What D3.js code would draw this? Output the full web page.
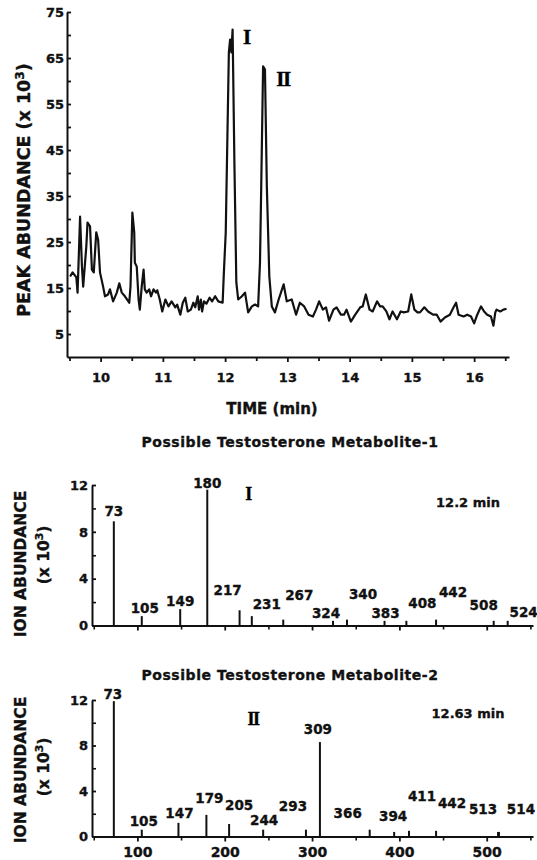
<!DOCTYPE html>
<html>
<head>
<meta charset="utf-8">
<script src="https://cdn.jsdelivr.net/npm/d3@7"></script>
<style>
  html, body { margin: 0; padding: 0; background: #fff; }
  svg { display: block; }
  text { font-family: "DejaVu Sans", "Liberation Sans", sans-serif; font-weight: bold; fill: #111;
         stroke: #111; stroke-width: 0.35px; }
  .roman { font-family: "Liberation Serif", "DejaVu Serif", serif; font-weight: bold; fill: #000; stroke: #000; }
  .domain, .tick line { stroke: #111; }
</style>
</head>
<body>
<div id="chart"></div>
<script>
// ---- data --------------------------------------------------------------- //
// total ion chromatogram: retention time (min) vs abundance (x 10^3)
const chromTime = [
  9.51, 9.55, 9.61, 9.63, 9.67, 9.70, 9.72, 9.77, 9.79, 9.83, 9.86, 9.89, 9.93, 9.96, 9.99,
  10.04, 10.07, 10.12, 10.15, 10.20, 10.26, 10.30, 10.34, 10.39, 10.46, 10.48, 10.51, 10.54,
  10.55, 10.58, 10.61, 10.63, 10.66, 10.69, 10.71, 10.74, 10.78, 10.81, 10.85, 10.89, 10.91,
  10.95, 10.99, 11.04, 11.09, 11.14, 11.20, 11.23, 11.28, 11.32, 11.36, 11.40, 11.45, 11.49,
  11.52, 11.56, 11.58, 11.61, 11.63, 11.66, 11.70, 11.75, 11.79, 11.84, 11.89, 11.96, 11.98,
  12.01, 12.06, 12.08, 12.10, 12.12, 12.15, 12.18, 12.21, 12.27, 12.32, 12.37, 12.43, 12.48,
  12.53, 12.56, 12.58, 12.61, 12.64, 12.67, 12.71, 12.75, 12.80, 12.86, 12.94, 12.99, 13.07,
  13.14, 13.20, 13.27, 13.34, 13.41, 13.46, 13.51, 13.57, 13.62, 13.67, 13.74, 13.79, 13.86,
  13.91, 13.95, 14.02, 14.09, 14.17, 14.21, 14.26, 14.32, 14.37, 14.44, 14.49, 14.53, 14.59,
  14.64, 14.69, 14.76, 14.82, 14.87, 14.94, 14.99, 15.04, 15.09, 15.13, 15.20, 15.26, 15.34,
  15.40, 15.46, 15.53, 15.61, 15.67, 15.71, 15.75, 15.83, 15.89, 15.95, 16.00, 16.05, 16.11,
  16.16, 16.21, 16.27, 16.31, 16.34, 16.36, 16.42, 16.47, 16.52
];
const chromAbund = [
  17.5, 18.4, 17.3, 14.0, 30.5, 19.7, 15.3, 24.0, 29.2, 28.4, 19.0, 18.4, 27.1, 25.5, 18.4,
  15.3, 13.2, 13.6, 14.7, 12.1, 14.0, 16.0, 14.0, 13.2, 11.8, 15.3, 31.4, 27.1,
  20.5, 19.7, 12.5, 10.3, 15.3, 19.0, 14.7, 14.0, 14.7, 13.2, 14.7, 14.0, 14.5,
  12.5, 9.9, 12.5, 11.0, 12.1, 10.8, 11.4, 9.2, 11.8, 12.9, 9.9, 10.3, 11.8,
  10.8, 13.2, 10.3, 12.5, 9.9, 12.1, 11.6, 12.9, 12.1, 13.2, 12.1, 11.8, 18.4,
  27.1, 66.2, 69.0, 66.2, 71.2, 41.4, 16.2, 12.5, 13.2, 14.0, 9.7, 11.0, 11.4,
  11.0, 20.5, 37.1, 63.2, 62.5, 37.1, 17.5, 11.0, 9.7, 12.5, 15.8, 12.1, 12.5,
  9.2, 11.8, 11.0, 9.2, 8.8, 10.3, 12.1, 10.3, 10.8, 7.9, 10.3, 10.8, 9.2,
  9.2, 10.3, 7.7, 9.2, 10.8, 11.0, 13.6, 10.3, 9.9, 12.1, 11.0, 11.0, 9.9,
  8.2, 9.9, 8.2, 9.9, 9.7, 9.9, 13.6, 10.3, 9.7, 9.7, 10.8, 9.9, 9.2,
  9.2, 7.7, 8.6, 9.2, 10.8, 11.8, 9.2, 8.8, 9.2, 8.8, 7.3, 9.2, 11.0,
  9.9, 9.2, 8.8, 6.8, 9.7, 10.3, 9.9, 10.3, 10.5
];
const timeTicks = [10, 11, 12, 13, 14, 15, 16];
const timeMinor = [9.5, 10.5, 11.5, 12.5, 13.5, 14.5, 15.5, 16.5];
const peakTicks = [5, 15, 25, 35, 45, 55, 65, 75];
const peakMinor = [10, 20, 30, 40, 50, 60, 70];

// mass spectrum of peak I (12.2 min)
const spec1Mz    = [73, 105, 149, 180, 217, 231, 267, 324, 340, 383, 408, 442, 508, 524];
const spec1Abund = [8.9, 0.8, 1.4, 11.6, 1.3, 0.8, 0.5, 0.4, 0.5, 0.4, 0.4, 0.5, 0.4, 0.4];
// mass spectrum of peak II (12.63 min)
const spec2Mz    = [73, 105, 147, 179, 205, 244, 293, 309, 366, 394, 411, 442, 513, 514];
const spec2Abund = [11.9, 0.6, 1.2, 1.9, 1.1, 0.6, 0.6, 8.3, 0.6, 0.4, 0.5, 0.5, 0.4, 0.4];

const ionTicks = [0, 4, 8, 12];
const ionMinor = [2, 6, 10];
const mzTicks = [100, 200, 300, 400, 500];
const mzMinor = [50, 150, 250, 350, 450, 550];

// label placement as drawn in the figure: [dx, dy] px from the top of each line
const spec1Nudge = [[0, -5], [3, -3], [0, -3], [0, -2], [-12, -15], [15, -7], [16, -20], [-7, -3],
                    [16, -21], [1, -3], [16, -13], [17, -23], [-10, -11], [16, -4]];
const spec2Nudge = [[-1, -2], [2, -4], [1, -5], [3, -12], [10, -14], [1, -5], [-13, -19], [-2, -8],
                    [-22, -12], [-1, -11], [13, -30], [16, -23], [-15, -18], [22, -18]];

// ---- drawing ------------------------------------------------------------ //
const W = 537, H = 860;
const svg = d3.select("#chart").append("svg")
  .attr("width", W).attr("height", H).attr("viewBox", `0 0 ${W} ${H}`);

// superscripted "(x 10³)" helper
function tenCubed(t, prefix) {
  t.append("tspan").text(prefix + "(x 10");
  t.append("tspan").attr("dy", -6).attr("font-size", "0.7em").text("3");
  t.append("tspan").attr("dy", 6).text(")");
}

function styleAxis(g, fontSize) {
  g.select(".domain").attr("stroke-width", 2);
  g.selectAll(".tick line").attr("stroke-width", 1.8);
  g.selectAll(".tick text").attr("font-size", fontSize).attr("fill", "#111");
}

// -- chromatogram --
const xTime = d3.scaleLinear().domain([9.46, 16.56]).range([67, 509]);
const yPeak = d3.scaleLinear().domain([0, 75]).range([357, 12]);

const gx = svg.append("g").attr("transform", `translate(0,${yPeak(0)})`)
  .call(d3.axisBottom(xTime).tickValues(timeTicks).tickSize(5).tickSizeOuter(0).tickPadding(11));
styleAxis(gx, 13);
svg.append("g").attr("transform", `translate(0,${yPeak(0)})`)
  .call(d3.axisBottom(xTime).tickValues(timeMinor).tickSize(4).tickFormat(""))
  .call(g => { g.select(".domain").remove(); g.selectAll(".tick line").attr("stroke-width", 1.8); });

const gy = svg.append("g").attr("transform", `translate(${xTime.range()[0]},0)`)
  .call(d3.axisLeft(yPeak).tickValues(peakTicks).tickSize(-4).tickSizeOuter(0).tickPadding(3));
styleAxis(gy, 13);
svg.append("g").attr("transform", `translate(${xTime.range()[0]},0)`)
  .call(d3.axisLeft(yPeak).tickValues(peakMinor).tickSize(-4).tickFormat(""))
  .call(g => { g.select(".domain").remove(); g.selectAll(".tick line").attr("stroke-width", 1.8); });

const chrom = chromTime.map((t, i) => [t, chromAbund[i]]);
svg.append("path").datum(chrom)
  .attr("fill", "none").attr("stroke", "#111").attr("stroke-width", 2.2)
  .attr("stroke-linejoin", "round")
  .attr("d", d3.line().x(d => xTime(d[0])).y(d => yPeak(d[1])));

svg.append("text").attr("x", 272).attr("y", 414).attr("text-anchor", "middle")
  .attr("font-size", 15).text("TIME  (min)");
const yTitle = svg.append("text").attr("transform", "translate(30,190) rotate(-90)")
  .attr("text-anchor", "middle").attr("font-size", 17.5);
tenCubed(yTitle, "PEAK ABUNDANCE ");

svg.append("text").attr("class", "roman").attr("x", 247).attr("y", 44)
  .attr("text-anchor", "middle").attr("font-size", 21).text("I");
svg.append("text").attr("class", "roman").attr("x", 283).attr("y", 86)
  .attr("text-anchor", "middle").attr("font-size", 21).attr("letter-spacing", -1.5).text("II");

// -- mass spectra --
const xMz = d3.scaleLinear().domain([48, 553]).range([92, 533]);

function drawSpectrum(o) {
  const y = d3.scaleLinear().domain([0, 12]).range(o.yRange);
  const base = y(0);

  svg.append("text").attr("x", 290).attr("y", o.titleY).attr("text-anchor", "middle")
    .attr("font-size", 14).attr("letter-spacing", 0.55).text(o.title);

  const ax = svg.append("g").attr("transform", `translate(0,${base})`)
    .call(d3.axisBottom(xMz).tickValues(mzTicks).tickSize(5).tickSizeOuter(0).tickPadding(6)
      .tickFormat(o.showMz ? d3.format("d") : ""));
  styleAxis(ax, 14);
  svg.append("g").attr("transform", `translate(0,${base})`)
    .call(d3.axisBottom(xMz).tickValues(mzMinor.filter(v => v < 553)).tickSize(4).tickFormat(""))
    .call(g => { g.select(".domain").remove(); g.selectAll(".tick line").attr("stroke-width", 1.6); });

  const ay = svg.append("g").attr("transform", `translate(${xMz.range()[0]},0)`)
    .call(d3.axisLeft(y).tickValues(ionTicks).tickSize(-4).tickSizeOuter(0).tickPadding(4));
  styleAxis(ay, 13);
  svg.append("g").attr("transform", `translate(${xMz.range()[0]},0)`)
    .call(d3.axisLeft(y).tickValues(ionMinor).tickSize(-4).tickFormat(""))
    .call(g => { g.select(".domain").remove(); g.selectAll(".tick line").attr("stroke-width", 1.6); });

  const rows = o.mz.map((m, i) => ({ m, a: o.ab[i], n: o.nudge[i] }));
  svg.append("g").selectAll("line").data(rows).join("line")
    .attr("x1", d => xMz(d.m)).attr("x2", d => xMz(d.m))
    .attr("y1", base).attr("y2", d => y(d.a))
    .attr("stroke", "#111").attr("stroke-width", 2);
  svg.append("g").selectAll("text").data(rows).join("text")
    .attr("x", d => xMz(d.m) + d.n[0]).attr("y", d => y(d.a) + d.n[1])
    .attr("text-anchor", "middle").attr("font-size", 13.5).text(d => d.m);

  svg.append("text").attr("x", 468).attr("y", o.timeY).attr("text-anchor", "middle")
    .attr("font-size", 13).text(o.time);
  svg.append("text").attr("class", "roman").attr("x", o.romanX).attr("y", o.romanY)
    .attr("text-anchor", "middle").attr("font-size", 18).attr("letter-spacing", -1.5).text(o.roman);

  svg.append("text").attr("transform", `translate(26,${o.ionY}) rotate(-90)`)
    .attr("text-anchor", "middle").attr("font-size", 15.5).text("ION ABUNDANCE");
  const unit = svg.append("text").attr("transform", `translate(49,${o.unitY}) rotate(-90)`)
    .attr("text-anchor", "middle").attr("font-size", 15.5);
  tenCubed(unit, "");
}

drawSpectrum({
  yRange: [625.5, 485], mz: spec1Mz, ab: spec1Abund, nudge: spec1Nudge,
  title: "Possible Testosterone Metabolite-1", titleY: 447, showMz: false,
  time: "12.2 min", timeY: 507, roman: "I", romanX: 248, romanY: 500,
  ionY: 564, unitY: 555
});
drawSpectrum({
  yRange: [836.5, 700], mz: spec2Mz, ab: spec2Abund, nudge: spec2Nudge,
  title: "Possible Testosterone Metabolite-2", titleY: 680, showMz: true,
  time: "12.63 min", timeY: 718, roman: "II", romanX: 253, romanY: 725,
  ionY: 770, unitY: 767
});
</script>
</body>
</html>
